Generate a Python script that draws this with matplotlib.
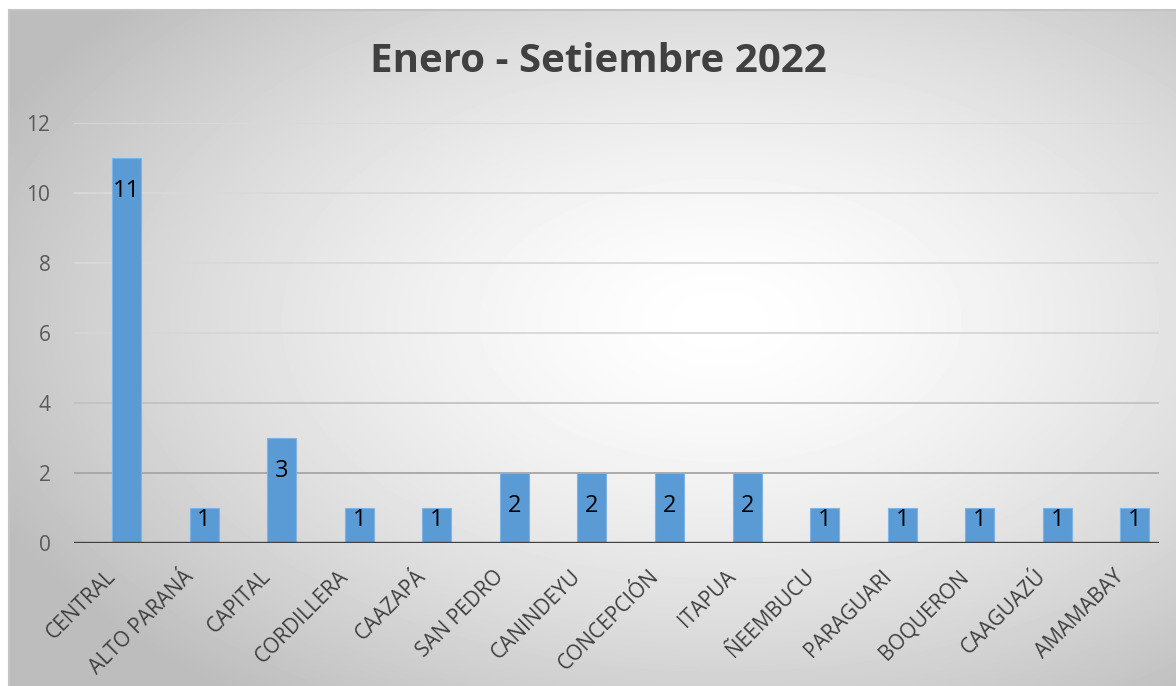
import matplotlib
matplotlib.use("Agg")
import matplotlib.pyplot as plt
import matplotlib.transforms as mtrans
import numpy as np
from matplotlib.patches import Rectangle

# data
departamentos = ["CENTRAL", "ALTO PARANÁ", "CAPITAL", "CORDILLERA", "CAAZAPÁ",
                 "SAN PEDRO", "CANINDEYU", "CONCEPCIÓN", "ITAPUA", "ÑEEMBUCU",
                 "PARAGUARI", "BOQUERON", "CAAGUAZÚ", "AMAMABAY"]
casos = [11, 1, 3, 1, 1, 2, 2, 2, 2, 1, 1, 1, 1, 1]
y_ticks = [0, 2, 4, 6, 8, 10, 12]
titulo = "Enero - Setiembre 2022"

W, H = 1176, 686
plt.rcParams['font.family'] = ['Open Sans', 'DejaVu Sans']

fig = plt.figure(figsize=(W / 100, H / 100), dpi=100)
fig.patch.set_facecolor('white')

# background: radial gray gradient inside the chart frame
######################################################################
x0, y0 = 9, 10
bg = fig.add_axes([x0 / W, 0, 1 - x0 / W, 1 - y0 / H], zorder=0)
xx, yy = np.meshgrid(np.arange(x0, W), np.arange(y0, H))
d = np.sqrt(((xx - 720) / 800.0) ** 2 + ((yy - 320) / 470.0) ** 2)
val = 1.0 - 0.26 * np.clip(d, 0, 1) ** 1.5
bg.imshow(val, cmap='gray', vmin=0, vmax=1, aspect='auto', interpolation='bilinear')
bg.set_axis_off()
fig.patches.append(Rectangle((x0 / W, -0.01), 1.0, 1 - y0 / H + 0.01,
                             transform=fig.transFigure, fill=False,
                             edgecolor='#c4c4c4', linewidth=1.5, zorder=1))
######################################################################

# main axes
######################################################################
ax = fig.add_axes([74 / W, 1 - 543 / H, (1159 - 74) / W, (543 - 123) / H], zorder=2)
ax.patch.set_alpha(0)
x = np.arange(len(departamentos))
ax.set_xlim(-0.677, 13.31)
ax.set_ylim(0, 12)

grid_colors = {2: '#a6a6a6', 4: '#c2c2c2', 6: '#d6d6d6', 8: '#d9d9d9', 10: '#d9d9d9', 12: '#d9d9d9'}
for t in y_ticks[1:]:
    ax.axhline(t, color=grid_colors[t], linewidth=1.3, zorder=1)
ax.axhline(0, color='#404040', linewidth=2.4, zorder=4)

bars = ax.bar(x, casos, width=0.375, color='#5b9bd5', edgecolor='#7fb2e5',
              linewidth=0.8, zorder=3)
# data labels inside end (short bars: label starts at the top)
px_per_unit = 35.0
for xi, v in zip(x, casos):
    off = min(21.0, (v - 1) * px_per_unit) * 0.72
    ax.annotate(str(v), (xi, v), xytext=(0, -off), textcoords='offset points',
                ha='center', va='top', fontsize=17, color='black', zorder=5)

for s in ax.spines.values():
    s.set_visible(False)
ax.set_yticks(y_ticks)
ax.set_yticklabels([str(t) for t in y_ticks])
ax.tick_params(axis='y', length=0, pad=17, labelsize=15, labelcolor='#595959')
ax.set_xticks(x)
ax.set_xticklabels(departamentos, rotation=45, ha='right', va='center',
                   rotation_mode='anchor')
ax.tick_params(axis='x', length=0, pad=22, labelsize=15, labelcolor='#404040')
shift = mtrans.ScaledTranslation(-14 / 100, 0, fig.dpi_scale_trans)
for lab in ax.get_xticklabels():
    lab.set_transform(lab.get_transform() + shift)
######################################################################

fig.text(598 / W, 1 - 62 / H, titulo, ha='center', va='center',
         fontsize=29, fontweight='bold', color='#404040', zorder=6)

fig.savefig('out.png', dpi=100)
